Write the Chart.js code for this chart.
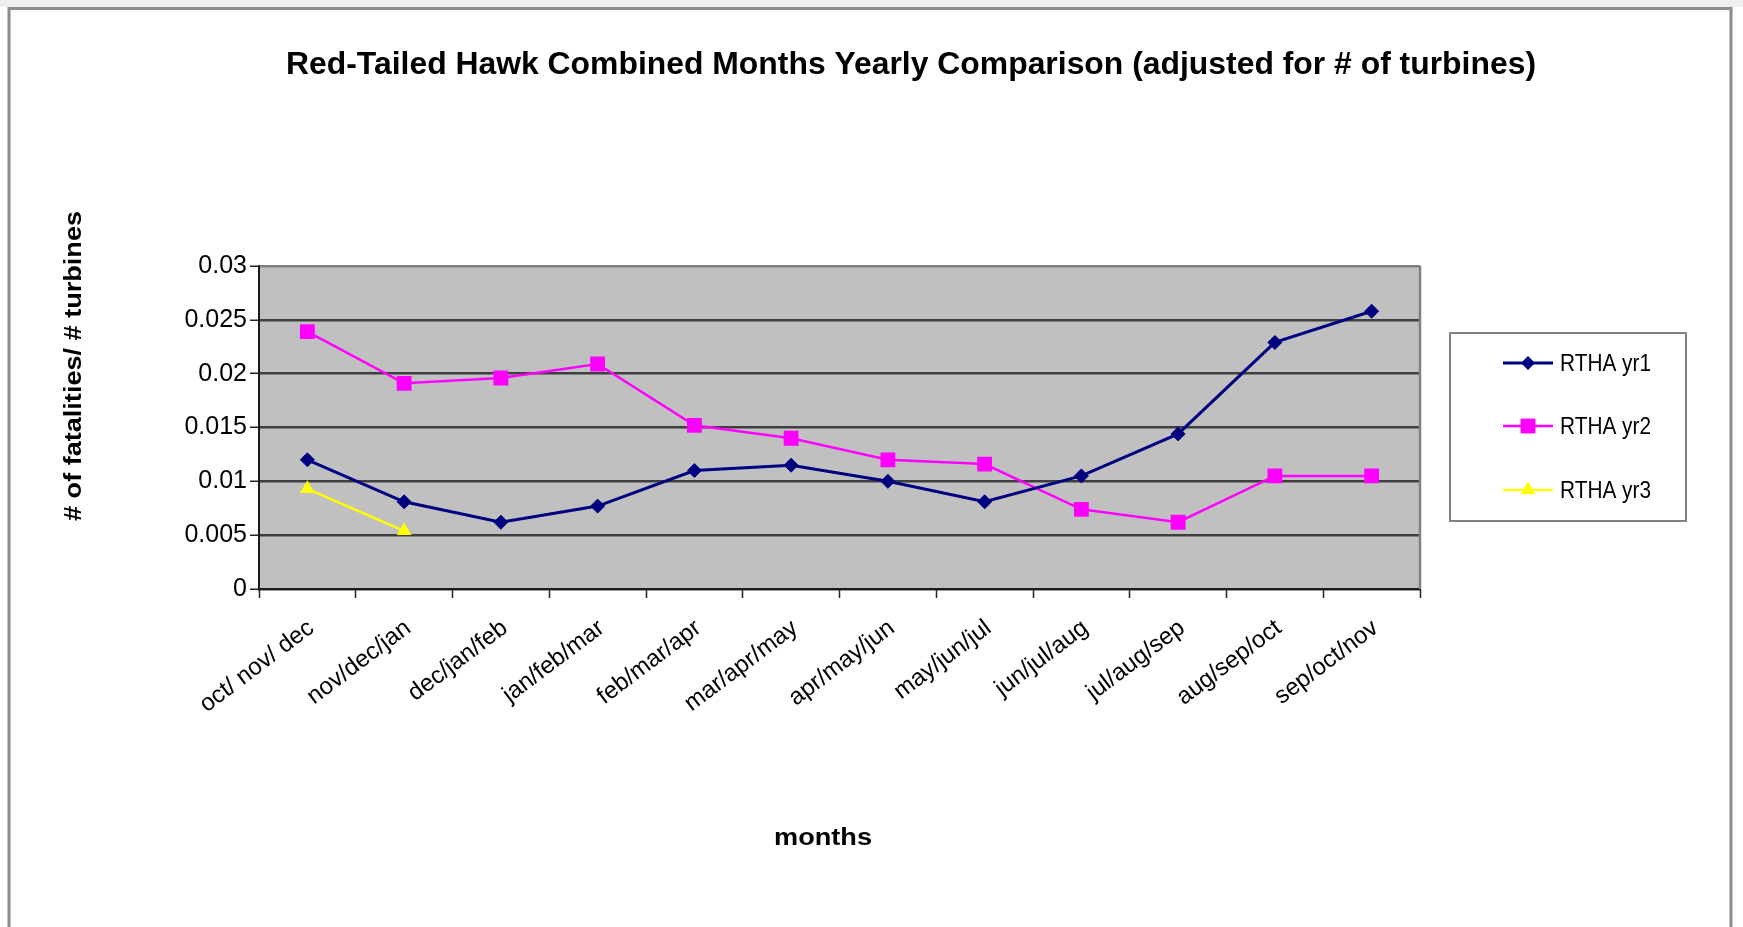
<!DOCTYPE html>
<html>
<head>
<meta charset="utf-8">
<script src="https://cdn.jsdelivr.net/npm/chart.js@4.4.1/dist/chart.umd.min.js"></script>
<style>
  html, body { margin: 0; padding: 0; background: #ffffff; }
  #wrap { position: relative; width: 1743px; height: 927px; }
</style>
</head>
<body>
<div id="wrap"><canvas id="c" width="1743" height="927"></canvas></div>
<script>
const chartTitle = 'Red-Tailed Hawk Combined Months Yearly Comparison (adjusted for # of turbines)';
const yAxisTitle = '# of fatalities/ # turbines';
const xAxisTitle = 'months';

const categories = ['oct/ nov/ dec', 'nov/dec/jan', 'dec/jan/feb', 'jan/feb/mar', 'feb/mar/apr', 'mar/apr/may',
                    'apr/may/jun', 'may/jun/jul', 'jun/jul/aug', 'jul/aug/sep', 'aug/sep/oct', 'sep/oct/nov'];
const rthaYr1 = [0.0120, 0.0081, 0.0062, 0.0077, 0.0110, 0.0115, 0.0100, 0.0081, 0.0105, 0.0144, 0.0229, 0.0258];
const rthaYr2 = [0.0239, 0.0191, 0.0196, 0.0209, 0.0152, 0.0140, 0.0120, 0.0116, 0.0074, 0.0062, 0.0105, 0.0105];
const rthaYr3 = [0.0093, 0.0054, null, null, null, null, null, null, null, null, null, null];
const yTicks = [0, 0.005, 0.01, 0.015, 0.02, 0.025, 0.03];
const seriesNames = ['RTHA yr1', 'RTHA yr2', 'RTHA yr3'];

const FONT = "'Liberation Sans', Arial, sans-serif";

function drawMarker(ctx, style, x, y, r, color) {
  ctx.save();
  ctx.fillStyle = color;
  ctx.beginPath();
  if (style === 'rectRot') {
    ctx.moveTo(x, y - r); ctx.lineTo(x + r, y); ctx.lineTo(x, y + r); ctx.lineTo(x - r, y); ctx.closePath();
  } else if (style === 'rect') {
    const s = r * Math.SQRT1_2;
    ctx.rect(x - s, y - s, 2 * s, 2 * s);
  } else if (style === 'triangle') {
    const w = r * Math.sqrt(3);
    ctx.moveTo(x, y - r); ctx.lineTo(x + w / 2, y + r / 2); ctx.lineTo(x - w / 2, y + r / 2); ctx.closePath();
  }
  ctx.fill();
  ctx.restore();
}

function fitText(ctx, text, x, y, targetWidth) {
  const w = ctx.measureText(text).width;
  const sx = targetWidth / w;
  ctx.save();
  ctx.translate(x, y);
  ctx.scale(sx, 1);
  ctx.fillText(text, 0, 0);
  ctx.restore();
}

const decorPlugin = {
  id: 'decor',
  beforeDraw(chart) {
    const ctx = chart.ctx;
    const a = chart.chartArea;
    ctx.save();
    ctx.fillStyle = '#ffffff';
    ctx.fillRect(0, 0, chart.width, chart.height);
    ctx.fillStyle = '#efefef';
    ctx.fillRect(0, 0, chart.width, 7);
    ctx.strokeStyle = '#8c8c8c';
    ctx.lineWidth = 3;
    ctx.beginPath();
    ctx.moveTo(9, chart.height + 5); ctx.lineTo(9, 8.5); ctx.lineTo(1731, 8.5); ctx.lineTo(1731, chart.height + 5);
    ctx.stroke();
    ctx.fillStyle = '#c0c0c0';
    ctx.fillRect(a.left, a.top, a.right - a.left, a.bottom - a.top);
    ctx.restore();
  },
  beforeDatasetsDraw(chart) {
    const ctx = chart.ctx;
    const a = chart.chartArea;
    ctx.save();
    ctx.strokeStyle = '#808080';
    ctx.lineWidth = 2.5;
    ctx.beginPath();
    ctx.moveTo(a.right, a.top); ctx.lineTo(a.right, a.bottom);
    ctx.stroke();
    ctx.restore();
  },
  afterDraw(chart) {
    const ctx = chart.ctx;
    ctx.save();
    ctx.fillStyle = '#000000';
    ctx.font = 'bold 31px ' + FONT;
    ctx.textAlign = 'center';
    ctx.textBaseline = 'alphabetic';
    fitText(ctx, chartTitle, 911, 74, 1250);
    ctx.font = 'bold 24px ' + FONT;
    ctx.save();
    ctx.translate(74, 366);
    ctx.rotate(-Math.PI / 2);
    ctx.textBaseline = 'middle';
    fitText(ctx, yAxisTitle, 0, 0, 310);
    ctx.restore();
    ctx.textBaseline = 'middle';
    ctx.font = 'bold 23px ' + FONT;
    fitText(ctx, xAxisTitle, 823, 839, 98);
    // legend
    ctx.strokeStyle = '#808080';
    ctx.lineWidth = 2;
    ctx.strokeRect(1450, 333, 236, 188);
    const ys = [363, 426, 490];
    chart.data.datasets.forEach((ds, i) => {
      const y = ys[i];
      ctx.strokeStyle = ds.borderColor;
      ctx.lineWidth = ds.borderWidth;
      ctx.beginPath();
      ctx.moveTo(1503, y); ctx.lineTo(1553, y);
      ctx.stroke();
      drawMarker(ctx, ds.pointStyle, 1528, y, ds.pointRadius, ds.pointBackgroundColor);
      ctx.fillStyle = '#000000';
      ctx.font = '24px ' + FONT;
      ctx.textAlign = 'left';
      ctx.textBaseline = 'middle';
      fitText(ctx, ds.label, 1560, y + 1, 91);
    });
    ctx.restore();
  }
};

new Chart(document.getElementById('c'), {
  type: 'line',
  data: {
    labels: categories,
    datasets: [
      { label: seriesNames[0], data: rthaYr1, borderColor: '#000080', backgroundColor: '#000080',
        pointBackgroundColor: '#000080', pointBorderColor: '#000080', borderWidth: 3,
        pointStyle: 'rectRot', pointRadius: 7, pointBorderWidth: 1, tension: 0 },
      { label: seriesNames[1], data: rthaYr2, borderColor: '#ff00ff', backgroundColor: '#ff00ff',
        pointBackgroundColor: '#ff00ff', pointBorderColor: '#ff00ff', borderWidth: 2.5,
        pointStyle: 'rect', pointRadius: 10.5, pointBorderWidth: 0, tension: 0 },
      { label: seriesNames[2], data: rthaYr3, borderColor: '#ffff00', backgroundColor: '#ffff00',
        pointBackgroundColor: '#ffff00', pointBorderColor: '#ffff00', borderWidth: 2.5,
        pointStyle: 'triangle', pointRadius: 8.5, pointBorderWidth: 0, tension: 0, spanGaps: false }
    ]
  },
  options: {
    responsive: false,
    animation: false,
    devicePixelRatio: 1,
    layout: { padding: { left: 10, top: 266, right: 323, bottom: 0 } },
    plugins: {
      legend: { display: false },
      title: { display: false },
      tooltip: { enabled: false }
    },
    scales: {
      x: {
        type: 'category',
        offset: true,
        afterFit(scale) { scale.height = 338; },
        grid: { offset: true, drawOnChartArea: false, drawTicks: true, tickLength: 9, tickColor: '#222222', tickWidth: 1.5 },
        border: { display: true, color: '#1a1a1a', width: 2 },
        ticks: { autoSkip: false, maxRotation: 37, minRotation: 37, padding: 16, labelOffset: 4, color: '#000000',
                 font: { family: FONT, size: 24 } }
      },
      y: {
        min: 0, max: 0.03,
        afterFit(scale) { scale.width = 249; },
        afterBuildTicks(scale) { scale.ticks = yTicks.map(v => ({ value: v })); },
        grid: {
          drawTicks: true, tickLength: 9, tickColor: '#222222', tickWidth: 1.5,
          color: (c) => (c.tick && c.tick.value === 0.03) ? '#808080' : '#3f3f3f',
          lineWidth: 2.5
        },
        border: { display: true, color: '#1a1a1a', width: 2 },
        ticks: { padding: 3, color: '#000000', font: { family: FONT, size: 25 },
                 callback: (v) => String(v) }
      }
    }
  },
  plugins: [decorPlugin]
});
</script>
</body>
</html>
